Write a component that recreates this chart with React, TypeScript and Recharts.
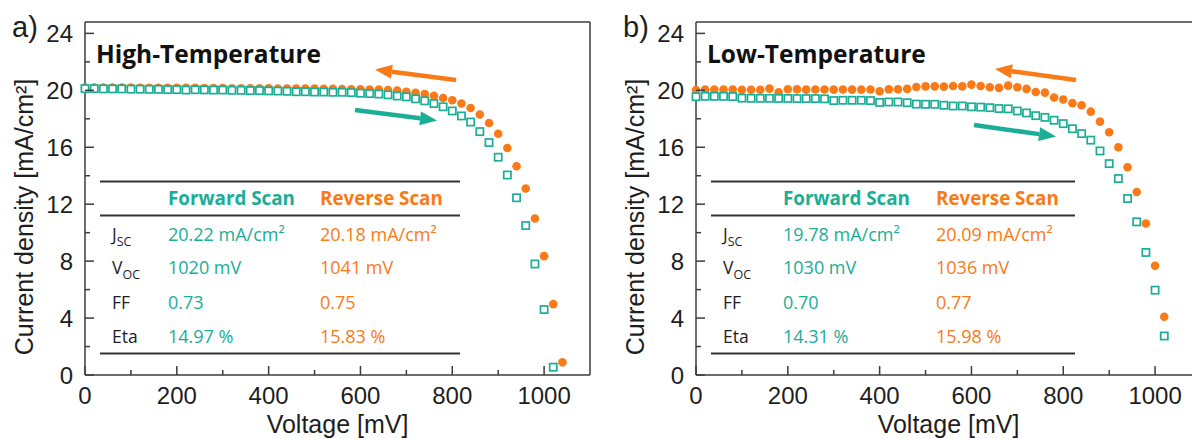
import React from "react";
import { ScatterChart, Scatter, XAxis, YAxis } from "recharts";

const TEAL = "#1aae96";
const ORANGE = "#f97a16";
const AXIS = "#3c3c3c";
const INK = "#1e1e1e";
const SANS = "'Liberation Sans', Arial, sans-serif";
const TABLE_FONT = "'Open Sans', 'Noto Sans', sans-serif";

// voltage grid of the J-V sweeps (mV)
const voltsHigh = [
  0, 20, 40, 60, 80, 100, 120, 140, 160, 180, 200, 220, 240, 260, 280, 300, 320, 340, 360, 380,
  400, 420, 440, 460, 480, 500, 520, 540, 560, 580, 600, 620, 640, 660, 680, 700, 720, 740, 760,
  780, 800, 820, 840, 860, 880, 900, 920, 940, 960, 980, 1000, 1020, 1040,
];
const voltsLow = [
  0, 20, 40, 60, 80, 100, 120, 140, 160, 180, 200, 220, 240, 260, 280, 300, 320, 340, 360, 380,
  400, 420, 440, 460, 480, 500, 520, 540, 560, 580, 600, 620, 640, 660, 680, 700, 720, 740, 760,
  780, 800, 820, 840, 860, 880, 900, 920, 940, 960, 980, 1000, 1020,
];

// current density (mA/cm²)
const highForward = [
  20.12, 20.12, 20.1, 20.1, 20.1, 20.08, 20.08, 20.07, 20.07, 20.05, 20.05, 20.02, 20.04, 20.03,
  20.02, 20.02, 20.0, 20.0, 19.98, 19.98, 19.96, 19.95, 19.93, 19.9, 19.9, 19.88, 19.88, 19.86,
  19.86, 19.84, 19.8, 19.77, 19.74, 19.68, 19.6, 19.54, 19.4, 19.26, 19.07, 18.84, 18.55, 18.2,
  17.77, 17.1, 16.33, 15.3, 14.05, 12.45, 10.5, 7.8, 4.6, 0.55,
];
const highReverse = [
  20.2, 20.2, 20.2, 20.19, 20.19, 20.19, 20.18, 20.18, 20.18, 20.18, 20.17, 20.17, 20.17, 20.16,
  20.16, 20.16, 20.15, 20.15, 20.15, 20.14, 20.14, 20.13, 20.13, 20.12, 20.12, 20.12, 20.11, 20.1,
  20.09, 20.08, 20.07, 20.06, 20.05, 20.02, 19.98, 19.9, 19.82, 19.74, 19.62, 19.46, 19.3, 19.07,
  18.76, 18.3, 17.7, 16.95, 15.95, 14.67, 13.1, 11.0, 8.35, 4.98, 0.89,
];
const lowForward = [
  19.55, 19.58, 19.58, 19.58, 19.56, 19.45, 19.44, 19.44, 19.44, 19.43, 19.43, 19.42, 19.42,
  19.42, 19.4, 19.28, 19.3, 19.3, 19.3, 19.28, 19.15, 19.18, 19.18, 19.13, 19.03, 19.02, 19.02,
  18.95, 18.9, 18.9, 18.84, 18.82, 18.78, 18.72, 18.7, 18.55, 18.41, 18.22, 18.1, 17.9, 17.66,
  17.3, 16.96, 16.5, 15.74, 14.85, 13.8, 12.4, 10.76, 8.61, 5.96, 2.74,
];
const lowReverse = [
  20.02, 20.05, 20.06, 20.05, 20.06, 20.03, 20.04, 20.04, 20.12, 19.86, 20.08, 20.07, 20.05,
  20.06, 20.06, 20.05, 20.06, 20.05, 20.05, 20.06, 19.93, 20.08, 20.07, 20.1, 20.23, 20.28, 20.28,
  20.26, 20.3, 20.28, 20.4, 20.3, 20.22, 20.17, 20.33, 20.22, 20.1, 19.88, 19.84, 19.5, 19.36,
  19.1, 18.95, 18.5, 17.8, 17.05, 16.0, 14.6, 12.86, 10.64, 7.67, 4.09,
];

const xTicks = [0, 100, 200, 300, 400, 500, 600, 700, 800, 900, 1000];
const yTicks = [0, 2, 4, 6, 8, 10, 12, 14, 16, 18, 20, 22, 24];

const rowNames = ["J", "V", "FF", "Eta"];
const rowSubs = ["SC", "OC", "", ""];
const highFwdStats = ["20.22 mA/cm²", "1020 mV", "0.73", "14.97 %"];
const highRevStats = ["20.18 mA/cm²", "1041 mV", "0.75", "15.83 %"];
const lowFwdStats = ["19.78 mA/cm²", "1030 mV", "0.70", "14.31 %"];
const lowRevStats = ["20.09 mA/cm²", "1036 mV", "0.77", "15.98 %"];

const toPoints = (volts: number[], amps: number[]) => amps.map((j, i) => ({ v: volts[i], j }));

const Square = (p: any) => (
  <rect x={p.cx - 3.6} y={p.cy - 3.6} width={7.2} height={7.2} fill="#fff" stroke={TEAL} strokeWidth={1.7} />
);
const Dot = (p: any) => <circle cx={p.cx} cy={p.cy} r={4.3} fill={ORANGE} />;

function BottomTick({ x, y, payload }: any) {
  const major = payload.value % 200 === 0;
  return (
    <g>
      <line x1={x} y1={y} x2={x} y2={y - (major ? 9 : 5)} stroke={AXIS} strokeWidth={1.5} />
      {major && (
        <text x={x} y={y + 29} textAnchor="middle" fontSize={24} fontFamily={SANS} fill={INK}>
          {payload.value}
        </text>
      )}
    </g>
  );
}
function TopTick({ x, y, payload }: any) {
  const major = payload.value % 200 === 0;
  return <line x1={x} y1={y} x2={x} y2={y + (major ? 9 : 5)} stroke={AXIS} strokeWidth={1.5} />;
}
function LeftTick({ x, y, payload }: any) {
  const major = payload.value % 4 === 0;
  return (
    <g>
      <line x1={x} y1={y} x2={x + (major ? 9 : 5)} y2={y} stroke={AXIS} strokeWidth={1.5} />
      {major && (
        <text x={x - 12} y={y + 8.5} textAnchor="end" fontSize={24} fontFamily={SANS} fill={INK}>
          {payload.value}
        </text>
      )}
    </g>
  );
}
function RightTick({ x, y, payload }: any) {
  const major = payload.value % 4 === 0;
  return <line x1={x} y1={y} x2={x - (major ? 9 : 5)} y2={y} stroke={AXIS} strokeWidth={1.5} />;
}

function Arrow({ x1, y1, x2, y2, color }: any) {
  const a = Math.atan2(y2 - y1, x2 - x1);
  const head = 17;
  const half = 7;
  const bx = x2 - head * Math.cos(a);
  const by = y2 - head * Math.sin(a);
  const px = -Math.sin(a) * half;
  const py = Math.cos(a) * half;
  return (
    <g>
      <line x1={x1} y1={y1} x2={bx} y2={by} stroke={color} strokeWidth={4.5} />
      <polygon points={`${x2},${y2} ${bx + px},${by + py} ${bx - px},${by - py}`} fill={color} />
    </g>
  );
}

function Panel({ left, letter, title, forward, reverse, fwdStats, revStats, cols, arrows }: any) {
  const axisLine = { stroke: AXIS, strokeWidth: 1.5 };
  const rowY = [241, 274, 309, 343];
  return (
    <div style={{ position: "absolute", left, top: 0, width: 600, height: 439 }}>
      <ScatterChart width={600} height={439} margin={{ top: 21, right: 9, bottom: 63, left: 84 }}>
        <XAxis xAxisId="b" type="number" dataKey="v" domain={[0, 1100]} ticks={xTicks} interval={0}
          height={1} tickSize={0} tickMargin={0} tickLine={false} axisLine={axisLine}
          tick={(p: any) => <BottomTick {...p} />} />
        <XAxis xAxisId="t" orientation="top" type="number" domain={[0, 1100]} ticks={xTicks} interval={0}
          height={1} tickSize={0} tickMargin={0} tickLine={false} axisLine={axisLine}
          tick={(p: any) => <TopTick {...p} />} />
        <YAxis yAxisId="l" type="number" dataKey="j" domain={[0, 24.8]} ticks={yTicks} interval={0}
          width={1} tickSize={0} tickMargin={0} tickLine={false} axisLine={axisLine}
          tick={(p: any) => <LeftTick {...p} />} />
        <YAxis yAxisId="r" orientation="right" type="number" domain={[0, 24.8]} ticks={yTicks} interval={0}
          width={1} tickSize={0} tickMargin={0} tickLine={false} axisLine={axisLine}
          tick={(p: any) => <RightTick {...p} />} />
        <Scatter xAxisId="b" yAxisId="l" data={reverse} shape={Dot} isAnimationActive={false} />
        <Scatter xAxisId="b" yAxisId="l" data={forward} shape={Square} isAnimationActive={false} />
      </ScatterChart>
      <svg width={600} height={439} style={{ position: "absolute", left: 0, top: 0, pointerEvents: "none" }}>
        <text x={12} y={37} fontSize={29} fontFamily={SANS} fill={INK}>{letter}</text>
        <text x={96} y={63} fontSize={24.5} fontWeight={700} fontFamily={TABLE_FONT} fill="#111">{title}</text>
        <text x={337.5} y={433} textAnchor="middle" fontSize={25} fontFamily={SANS} fill={INK}>Voltage [mV]</text>
        <text transform="translate(33,217) rotate(-90)" textAnchor="middle" fontSize={25} fontFamily={SANS} fill={INK}>
          Current density [mA/cm²]
        </text>
        {arrows.map((a: any, i: number) => <Arrow key={i} {...a} />)}
        {[181.5, 215.5, 353.5].map((y) => (
          <line key={y} x1={100} x2={cols.end} y1={y} y2={y} stroke="#333" strokeWidth={2} />
        ))}
        <text x={cols.fwd} y={205} fontSize={18.8} fontWeight={700} fontFamily={TABLE_FONT} fill={TEAL}>Forward Scan</text>
        <text x={cols.rev} y={205} fontSize={18.8} fontWeight={700} fontFamily={TABLE_FONT} fill={ORANGE}>Reverse Scan</text>
        {rowNames.map((name, i) => (
          <g key={name}>
            <text x={112} y={rowY[i]} fontSize={17.5} fontFamily={TABLE_FONT} fill={INK}>
              {name}
              {rowSubs[i] && <tspan fontSize={12.5} dy={5}>{rowSubs[i]}</tspan>}
            </text>
            <text x={cols.fwd} y={rowY[i]} fontSize={18} fontFamily={TABLE_FONT} fill={TEAL}>{fwdStats[i]}</text>
            <text x={cols.rev} y={rowY[i]} fontSize={18} fontFamily={TABLE_FONT} fill={ORANGE}>{revStats[i]}</text>
          </g>
        ))}
      </svg>
    </div>
  );
}

export default function App() {
  return (
    <div style={{ position: "fixed", left: 0, top: 0, width: 1192, height: 439, overflow: "hidden", background: "#fff" }}>
      <Panel
        left={0}
        letter="a)"
        title="High-Temperature"
        forward={toPoints(voltsHigh, highForward)}
        reverse={toPoints(voltsHigh, highReverse)}
        fwdStats={highFwdStats}
        revStats={highRevStats}
        cols={{ fwd: 168, rev: 320, end: 460 }}
        arrows={[
          { x1: 456, y1: 80, x2: 375, y2: 69.5, color: ORANGE },
          { x1: 355, y1: 110, x2: 437, y2: 120.5, color: TEAL },
        ]}
      />
      <Panel
        left={611}
        letter="b)"
        title="Low-Temperature"
        forward={toPoints(voltsLow, lowForward)}
        reverse={toPoints(voltsLow, lowReverse)}
        fwdStats={lowFwdStats}
        revStats={lowRevStats}
        cols={{ fwd: 172, rev: 325, end: 464 }}
        arrows={[
          { x1: 465, y1: 80, x2: 384, y2: 69, color: ORANGE },
          { x1: 363, y1: 125, x2: 445, y2: 136.5, color: TEAL },
        ]}
      />
    </div>
  );
}
